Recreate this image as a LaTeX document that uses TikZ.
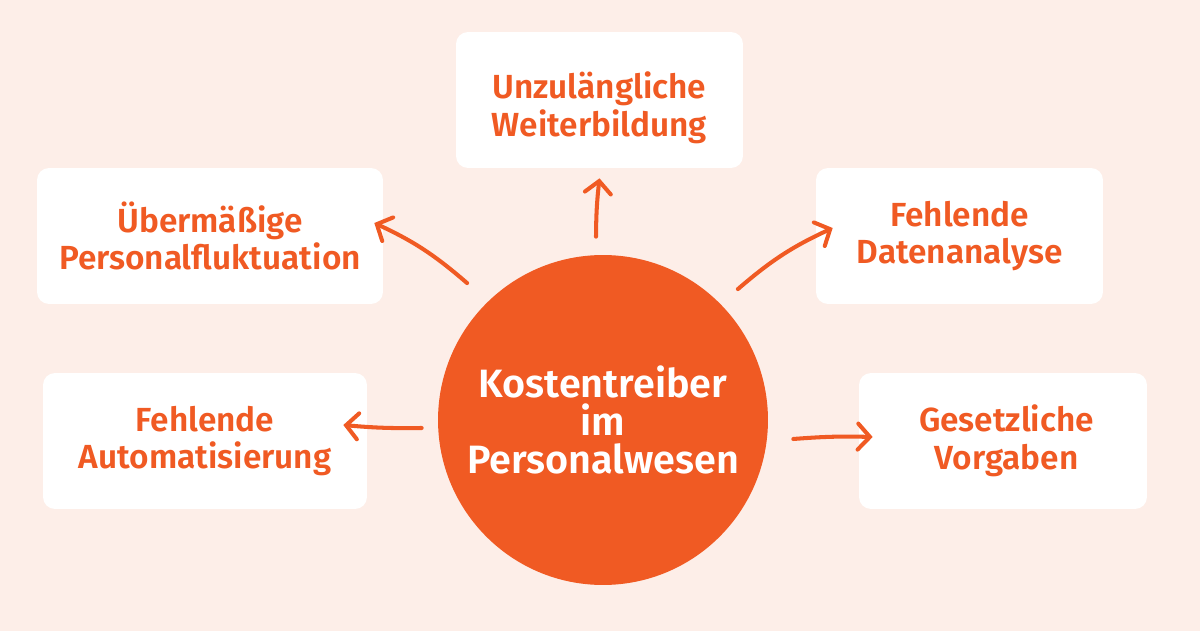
\documentclass[tikz,border=0pt]{standalone}
\usepackage{fontspec}
\setmainfont{Fira Sans SemiBold}
\usetikzlibrary{positioning}
\usetikzlibrary{arrows.meta}
\definecolor{kostenc}{RGB}{240,90,35}
\definecolor{bgc}{RGB}{253,238,232}

\begin{document}
\begin{tikzpicture}[x=0.02cm,y=-0.02cm,
  causebox/.style={fill=white,rounded corners=2.4mm,minimum height=2.72cm,align=center,
    text=kostenc,font=\fontsize{19}{21.5}\selectfont},
  arr/.style={draw=kostenc,line width=2.3pt,line cap=round,
    -{Straight Barb[length=2.4mm,width=5.2mm,line cap=round]}}]
\fill[bgc] (0,0) rectangle (1200,631);

\node[circle,fill=kostenc,minimum size=6.6cm,inner sep=0pt,align=center,text=white,
  font=\fontsize{22.5}{21.5}\selectfont] (hub) at (603,420) {Kostentreiber\\im\\Personalwesen};

\node[causebox,minimum width=5.74cm] (weiter) at (599.5,100) {\rule{0pt}{1.25em}Unzulängliche\\Weiterbildung};
\node[causebox,minimum width=6.92cm] (fluk) at (210,236) {Übermäßige\\Personalfluktuation};
\node[causebox,minimum width=5.74cm] (daten) at (959.5,236) {Fehlende\\Datenanalyse};
\node[causebox,minimum width=6.48cm] (auto) at (205,441) {Fehlende\\Automatisierung};
\node[causebox,minimum width=5.76cm] (vorgaben) at (1003,441) {\hspace*{1.4mm}Gesetzliche\\\hspace*{1.4mm}Vorgaben};

\draw[arr] ([xshift=-1.4mm,yshift=3.6mm]hub.north) to[bend left=3] ([yshift=-2mm]weiter.south);
\draw[arr] ([xshift=-3.8mm,yshift=4mm]hub.135) to[bend right=8] ([xshift=-1.8mm,yshift=2.6mm]fluk.east);
\draw[arr] ([xshift=3.6mm,yshift=2.8mm]hub.45) to[bend left=8] ([xshift=3.4mm,yshift=1.6mm]daten.west);
\draw[arr] ([xshift=-3.2mm,yshift=-1.6mm]hub.west) to[bend left=3] ([xshift=-4.8mm,yshift=3.2mm]auto.east);
\draw[arr] ([xshift=5mm,yshift=-3.8mm]hub.east) to[bend left=3] ([xshift=2.8mm,yshift=0.8mm]vorgaben.west);
\end{tikzpicture}
\end{document}
